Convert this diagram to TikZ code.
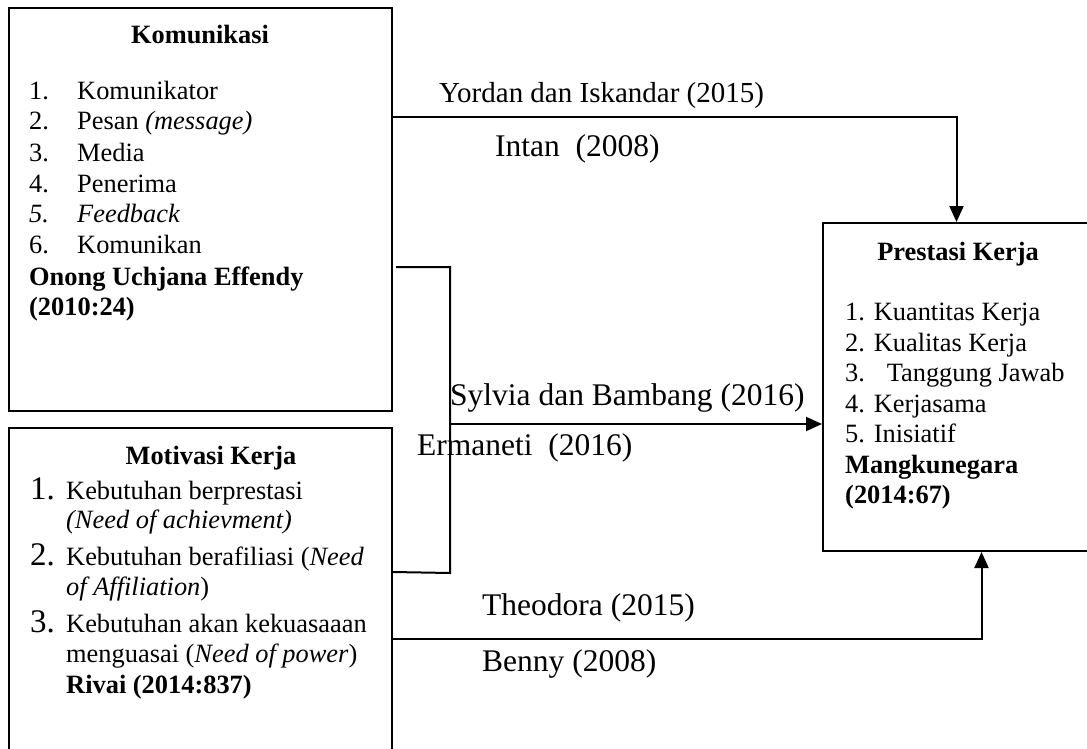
\documentclass[tikz,border=0pt]{standalone}
\usepackage{fontspec}
\setmainfont{Liberation Serif}
\usetikzlibrary{arrows.meta}
\newcommand{\bxf}{\fontsize{26.4}{30.8}\selectfont}
\newcommand{\lbf}{\fontsize{31.5}{36}\selectfont}
\newcommand{\ydf}{\fontsize{29}{34}\selectfont}
\newcommand{\nmf}{\fontsize{33}{36}\selectfont}
\begin{document}
\begin{tikzpicture}[x=1pt,y=-1pt,
  box/.style={draw,line width=2pt,rectangle,inner sep=0pt},
  conn/.style={line width=2pt},
  arr/.style={line width=2pt,-{Triangle[length=16pt,width=14pt]}},
  txt/.style={anchor=base west,inner sep=0pt,font=\bxf},
  num/.style={anchor=base west,inner sep=0pt,font=\nmf},
  ttl/.style={anchor=base,inner sep=0pt,font=\bxf\bfseries},
  lbl/.style={anchor=base west,inner sep=0pt,font=\lbf}]
\useasboundingbox (0,0) rectangle (1087,749);
% boxes
\node[box,minimum width=383pt,minimum height=403pt] (kom) at (200.5,209.5) {};
\node[box,minimum width=383pt,minimum height=327pt] (mot) at (200.5,591.5) {};
\node[box,minimum width=267pt,minimum height=328pt] (pres) at (956.5,387) {};
% Komunikasi text
\node[ttl] (kt) at (200,44) {Komunikasi};
\node[txt] (k1n) at (29,100) {1.};
\node[txt] (k1) at (77,100) {Komunikator};
\node[txt] (k2n) at (29,130) {2.};
\node[txt] (k2) at (77,130) {Pesan \textit{(message)}};
\node[txt] (k3n) at (29,161) {3.};
\node[txt] (k3) at (77,161) {Media};
\node[txt] (k4n) at (29,192) {4.};
\node[txt] (k4) at (77,192) {Penerima};
\node[txt] (k5n) at (29,222) {\textit{5.}};
\node[txt] (k5) at (77,222) {\textit{Feedback}};
\node[txt] (k6n) at (29,253) {6.};
\node[txt] (k6) at (77,253) {Komunikan};
\node[txt] (ka) at (29,285) {\textbf{Onong Uchjana Effendy}};
\node[txt] (kb) at (29,315) {\textbf{(2010:24)}};
% Motivasi text
\node[ttl] (mt) at (211,464) {Motivasi Kerja};
\node[num] (m1n) at (30,499) {1.};
\node[txt] (m1) at (66,499) {Kebutuhan berprestasi};
\node[txt] (m1b) at (66,528) {\textit{(Need of achievment)}};
\node[num] (m2n) at (30,565) {2.};
\node[txt] (m2) at (66,565) {Kebutuhan berafiliasi (\textit{Need}};
\node[txt] (m2b) at (66,595) {\textit{of Affiliation})};
\node[num] (m3n) at (30,632) {3.};
\node[txt] (m3) at (66,632) {Kebutuhan akan kekuasaaan};
\node[txt] (m3b) at (66,662) {menguasai (\textit{Need of power})};
\node[txt] (m3c) at (66,693) {\textbf{Rivai (2014:837)}};
% Prestasi text
\node[ttl] (pt) at (958,260) {Prestasi Kerja};
\node[txt] (p1) at (845,320) {1. Kuantitas Kerja};
\node[txt] (p2) at (845,351) {2. Kualitas Kerja};
\node[txt] (p3) at (845,381) {3.\hspace{13pt} Tanggung Jawab};
\node[txt] (p4) at (845,412) {4. Kerjasama};
\node[txt] (p5) at (845,442) {5. Inisiatif};
\node[txt] (p6) at (845,473) {\textbf{Mangkunegara}};
\node[txt] (p7) at (845,503) {\textbf{(2014:67)}};
% connectors
\draw[arr] (kom.east |- 0,117) -| (pres.north);
\coordinate (bt) at (396,267);
\coordinate (j) at (450,424);
\draw[conn] (bt) -- (450,267) -- (450,573) -- (mot.east |- 0,572);
\draw[arr] (j) -- (pres.west |- j);
\draw[arr] (mot.east |- 0,639) -| ([xshift=25pt]pres.south);
% labels
\node[lbl,font=\ydf] (l1) at (439,103) {Yordan dan Iskandar (2015)};
\node[lbl] (l2) at (495,157) {Intan\ \ (2008)};
\node[lbl] (l3) at (450,405) {Sylvia dan Bambang (2016)};
\node[lbl] (l4) at (417,455) {Ermaneti\ \ (2016)};
\node[lbl] (l5) at (482,615) {Theodora (2015)};
\node[lbl] (l6) at (482,671) {Benny (2008)};
\end{tikzpicture}
\end{document}
